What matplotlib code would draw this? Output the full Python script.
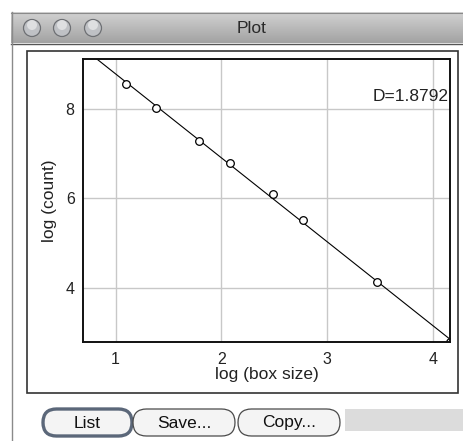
import numpy as np
import matplotlib
matplotlib.use("Agg")
import matplotlib.pyplot as plt
from matplotlib.patches import FancyBboxPatch, Rectangle, Circle

plt.rcParams['font.family'] = ['Liberation Sans', 'DejaVu Sans']

# Box-counting results
box_sizes = [3, 4, 6, 8, 12, 16, 32, 64]
log_count = [8.55, 8.02, 7.29, 6.80, 6.09, 5.51, 4.14, 2.79]
fractal_dim = 1.8792
x_range = (0.693, 4.159)
y_range = (2.79, 9.12)
x_ticks = [1, 2, 3, 4]
y_ticks = [4, 6, 8]
buttons = ["List", "Save...", "Copy..."]

log_size = np.log(box_sizes)
log_count = np.array(log_count)
intercept = np.mean(log_count + fractal_dim * log_size)

W, H = 463, 441
fig = plt.figure(figsize=(W / 100, H / 100), dpi=100)
fig.patch.set_facecolor("white")

# Window chrome, drawn in pixel coordinates
bg = fig.add_axes([0, 0, 1, 1])
bg.set_xlim(0, W)
bg.set_ylim(H, 0)
bg.axis("off")

# title bar gradient
grad = np.linspace(0, 1, 64).reshape(-1, 1)
bg.imshow(grad, cmap=matplotlib.colors.LinearSegmentedColormap.from_list(
    "tb", ["#d2d2d2", "#a2a2a2"]), extent=(11, W, 43, 12), aspect="auto", zorder=1)
bg.plot([11, W], [12.5, 12.5], color="#8a8a8a", lw=0.8, zorder=2)
bg.plot([11, W], [43.5, 43.5], color="#555555", lw=1.0, zorder=2)
bg.plot([11.5, 11.5], [12, H], color="#8a8a8a", lw=1.0, zorder=2)
bg.text(252, 28.5, "Plot", ha="center", va="center", fontsize=12.5,
        color="#2a2a2a", zorder=3)
for cx in (32, 62, 93):
    bg.add_patch(Circle((cx, 28), 8.5, facecolor="#bfc1c5", edgecolor="#6e7074",
                        lw=0.9, zorder=3))
    bg.add_patch(Circle((cx, 25), 5, facecolor="#e6e7e9", edgecolor="none",
                        alpha=0.8, zorder=4))

# outer frame of the plot image
bg.add_patch(Rectangle((26.5, 50.5), 431, 342.5, fill=False, edgecolor="#333333",
                       lw=1.2, zorder=2))

# buttons
btn_boxes = [(43, 132), (133, 235), (238, 340)]
for (x0, x1), label, default in zip(btn_boxes, buttons, [True, False, False]):
    h = 27
    y0 = 409
    bg.add_patch(FancyBboxPatch((x0, y0), x1 - x0, h,
                                boxstyle=f"round,pad=0,rounding_size={h/2}",
                                facecolor="#f4f4f4",
                                edgecolor="#5b6779" if default else "#4a4a4a",
                                lw=2.4 if default else 0.9, zorder=3))
    bg.text((x0 + x1) / 2, y0 + h / 2 + 0.5, label, ha="center", va="center",
            fontsize=12.5, color="#111111", zorder=4)
bg.add_patch(Rectangle((345, 409), W - 345, 22, facecolor="#dcdcdc",
                       edgecolor="none", zorder=2))

# Plot area
left, right, top, bottom = 83, 450, 59, 342
ax = fig.add_axes([left / W, (H - bottom) / H, (right - left) / W, (bottom - top) / H])
ax.set_zorder(5)
ax.set_xlim(*x_range)
ax.set_ylim(*y_range)
ax.set_xticks(x_ticks)
ax.set_yticks(y_ticks)
ax.grid(True, color="#c8c8c8", lw=1.0)
ax.set_axisbelow(True)
ax.tick_params(length=0, labelsize=11.5, colors="#222222")
ax.tick_params(axis="x", pad=7)
ax.tick_params(axis="y", pad=6)
for s in ax.spines.values():
    s.set_linewidth(1.4)
    s.set_color("#111111")

fit_x = np.array(x_range)
ax.plot(fit_x, intercept - fractal_dim * fit_x, color="black", lw=0.8)
ax.plot(log_size, log_count, linestyle="none", marker="o", markersize=5.5,
        markerfacecolor="white", markeredgecolor="black", markeredgewidth=0.9)

ax.set_xlabel("log (box size)", fontsize=12.5, labelpad=0, color="#222222")
ax.set_ylabel("log (count)", fontsize=12.5, labelpad=6, color="#222222")
ax.text(0.995, 0.866, f"D={fractal_dim:.4f}", transform=ax.transAxes,
        ha="right", va="center", fontsize=12.5, color="#222222")

fig.savefig("out.png", dpi=100)
